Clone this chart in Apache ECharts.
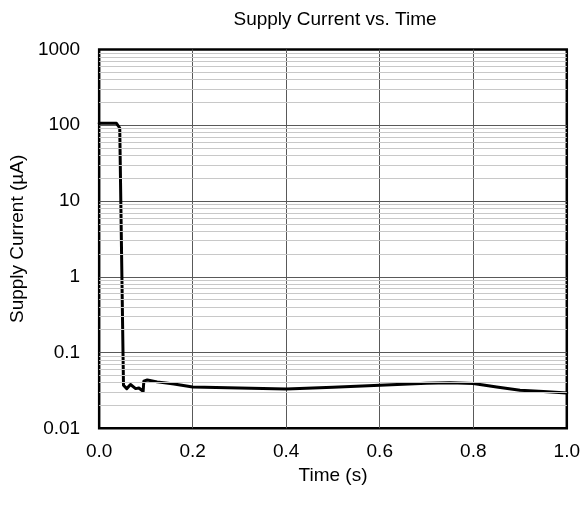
<!DOCTYPE html>
<html>
<head>
<meta charset="utf-8">
<script src="https://cdn.jsdelivr.net/npm/echarts@6/dist/echarts.min.js"></script>
<style>
html,body{margin:0;padding:0;background:#fff;}
#chart{width:583px;height:509px;}
</style>
</head>
<body>
<div id="chart"></div>
<script>
// ---- data ----
const timeS = [0, 0.037, 0.041, 0.044, 0.052, 0.059, 0.067, 0.078, 0.085, 0.094, 0.0955, 0.103, 0.124, 0.16, 0.2, 0.3, 0.4, 0.5, 0.6, 0.7, 0.75, 0.8, 0.85, 0.9, 0.95, 1.0];
const currentUA = [106, 106, 104, 92, 0.037, 0.0334, 0.0378, 0.0334, 0.034, 0.0308, 0.0418, 0.0435, 0.041, 0.0385, 0.0352, 0.034, 0.033, 0.0348, 0.037, 0.0393, 0.0398, 0.039, 0.0351, 0.0318, 0.0306, 0.0293];
const xTickLabels = ['0.0', '0.2', '0.4', '0.6', '0.8', '1.0'];
const yTickLabels = ['0.01', '0.1', '1', '10', '100', '1000'];
const decadeStarts = [0.01, 0.1, 1, 10, 100];
const minorMultipliers = [2, 3, 4, 5, 6, 7, 8, 9];

const FONT = 'Liberation Sans, Arial, sans-serif';
const points = timeS.map((t, i) => [t, currentUA[i]]);
const minorLines = [];
decadeStarts.forEach(d => minorMultipliers.forEach(m => minorLines.push({ yAxis: +(d * m).toPrecision(3) })));

const chart = echarts.init(document.getElementById('chart'), null, { renderer: 'canvas' });
chart.setOption({
  animation: false,
  backgroundColor: '#fff',
  title: {
    text: 'Supply Current vs. Time',
    left: 330, textAlign: 'center', top: 5,
    textStyle: { fontFamily: FONT, fontSize: 19, fontWeight: 'normal', color: '#000' }
  },
  grid: {
    left: 98.3, right: 13, top: 49.5, bottom: 80.7,
    show: true, borderColor: '#000', borderWidth: 2.5, backgroundColor: 'transparent'
  },
  xAxis: {
    type: 'value', min: 0, max: 1, interval: 0.2,
    name: 'Time (s)', nameLocation: 'middle', nameGap: 38,
    nameTextStyle: { fontFamily: FONT, fontSize: 19, color: '#000' },
    axisLine: { show: false }, axisTick: { show: false },
    axisLabel: { fontFamily: FONT, fontSize: 19, color: '#000', margin: 14,
      formatter: (v, i) => xTickLabels[i] },
    splitLine: { show: true, showMinLine: false, showMaxLine: false, lineStyle: { color: '#595959', width: 1 } }
  },
  yAxis: {
    type: 'log', logBase: 10, min: 0.01, max: 1000, splitNumber: 5,
    name: 'Supply Current (µA)', nameLocation: 'middle', nameGap: 62,
    nameTextStyle: { fontFamily: FONT, fontSize: 19, color: '#000' },
    axisLine: { show: false }, axisTick: { show: false },
    axisLabel: { fontFamily: FONT, fontSize: 19, color: '#000', margin: 19,
      formatter: (v, i) => yTickLabels[i] },
    splitLine: { show: true, showMinLine: false, showMaxLine: false, lineStyle: { color: '#595959', width: 1 } }
  },
  series: [
    {
      type: 'line', data: [], z: -1, silent: true,
      markLine: {
        silent: true, symbol: ['none', 'none'], animation: false,
        label: { show: false },
        lineStyle: { color: '#c8c8c8', width: 1, type: 'solid' },
        data: minorLines
      }
    },
    {
      type: 'line', data: points, showSymbol: false, smooth: false,
      lineStyle: { color: '#000', width: 3, cap: 'round', join: 'round' },
      z: 3
    }
  ]
});
</script>
</body>
</html>
